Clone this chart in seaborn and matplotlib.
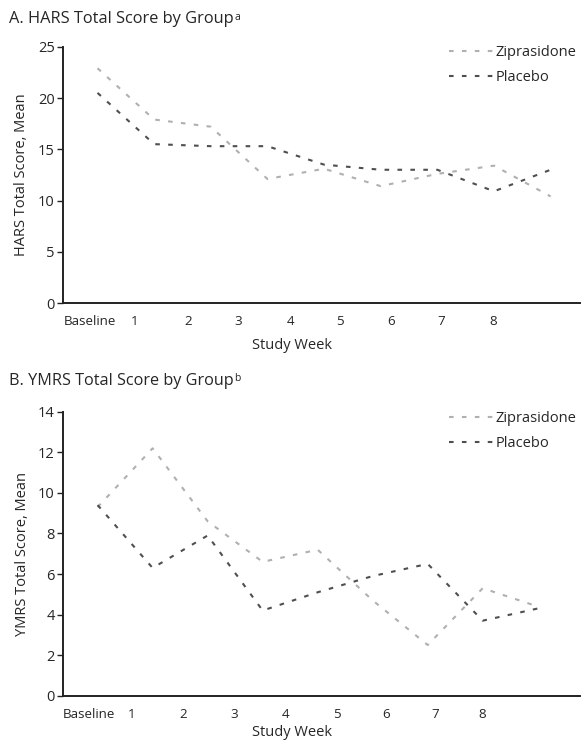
import pandas as pd
import matplotlib
matplotlib.use('Agg')
import matplotlib.pyplot as plt
import seaborn as sns

# data
weeks = [0, 1, 2, 3, 4, 5, 6, 7, 8]
week_labels = ['Baseline', '1', '2', '3', '4', '5', '6', '7', '8']
groups = ['Ziprasidone', 'Placebo']

hars_zip = [22.9, 17.9, 17.2, 12.1, 13.1, 11.4, 12.6, 13.4, 10.4]
hars_pla = [20.5, 15.5, 15.3, 15.3, 13.5, 13.0, 13.0, 10.9, 13.0]

ymrs_zip = [9.3, 12.2, 8.6, 6.6, 7.2, 4.7, 2.5, 5.3, 4.4]
ymrs_pla = [9.4, 6.3, 7.9, 4.2, 5.1, 5.9, 6.5, 3.7, 4.3]

sns.set_style('white')
plt.rcParams['font.family'] = ['Open Sans', 'DejaVu Sans']

def make_df(zip_vals, pla_vals):
    rows = []
    for w, z, p in zip(weeks, zip_vals, pla_vals):
        rows.append({'week': w, 'score': z, 'group': 'Ziprasidone'})
        rows.append({'week': w, 'score': p, 'group': 'Placebo'})
    return pd.DataFrame(rows)

palette = {'Ziprasidone': '#b0b0b0', 'Placebo': '#4f4f4f'}
dashes = {'Ziprasidone': (2.2, 4.0), 'Placebo': (2.2, 4.0)}

fig = plt.figure(figsize=(5.83, 7.42), dpi=100)
axA = fig.add_axes([0.108, 0.5916, 0.887, 0.3454])
axB = fig.add_axes([0.108, 0.0624, 0.887, 0.3826])

# label positions in the original figure do not line up with the data points
tickpos_A = [-0.14, 0.66, 1.6, 2.48, 3.4, 4.28, 5.19, 6.07, 6.98]
tickpos_B = [-0.16, 0.62, 1.55, 2.48, 3.42, 4.35, 5.25, 6.13, 7.0]

panels = [
    (axA, make_df(hars_zip, hars_pla), 'HARS Total Score, Mean', (0, 25), range(0, 26, 5), tickpos_A, (-0.61, 8.52), 1.03, 7),
    (axB, make_df(ymrs_zip, ymrs_pla), 'YMRS Total Score, Mean', (0, 14), range(0, 15, 2), tickpos_B, (-0.63, 8.77), 1.024, 3),
]

for ax, df, ylab, ylim, yt, tp, xl, ly, lp in panels:
    sns.lineplot(data=df, x='week', y='score', hue='group', style='group',
                 hue_order=groups, style_order=groups, palette=palette,
                 dashes=dashes, linewidth=1.5, ax=ax)
    ax.set_ylim(*ylim)
    ax.set_yticks(list(yt))
    ax.set_xlim(*xl)
    ax.set_xticks(tp)
    ax.set_xticklabels(week_labels)
    ax.set_xlabel('Study Week', fontsize=10.5, labelpad=lp)
    ax.xaxis.label.set_x(0.443)
    ax.set_ylabel(ylab, fontsize=10.5, labelpad=6)
    sns.despine(ax=ax)
    for s in ['left', 'bottom']:
        ax.spines[s].set_color('#222222')
        ax.spines[s].set_linewidth(1.4)
    ax.tick_params(axis='y', left=True, length=4, width=1, color='#222222',
                   labelsize=10.5, pad=2)
    ax.tick_params(axis='x', bottom=False, labelsize=9.6, pad=5)
    leg = ax.legend(loc='upper right', frameon=False, fontsize=10.5,
                    handlelength=3.2, handletextpad=0.0, borderaxespad=0.0,
                    labelspacing=0.7, bbox_to_anchor=(1.005, ly))
    for h in leg.get_lines():
        h.set_linewidth(1.5)

fig.canvas.draw()
r = fig.canvas.get_renderer()
for y, title, sup in [(0.974, 'A. HARS Total Score by Group', 'a'),
                      (0.4865, 'B. YMRS Total Score by Group', 'b')]:
    t = fig.text(0.015, y, title, fontsize=10.6, va='center', ha='left')
    # scale so the title spans about 226 px like the original
    w = t.get_window_extent(renderer=r).width
    t.set_fontsize(10.6 * 226 / w)
    bb = t.get_window_extent(renderer=r)
    fig.text(bb.x1 / fig.bbox.width + 0.002, y + 0.003, sup, fontsize=7.5,
             va='center', ha='left')

fig.savefig('out.png', dpi=100)
